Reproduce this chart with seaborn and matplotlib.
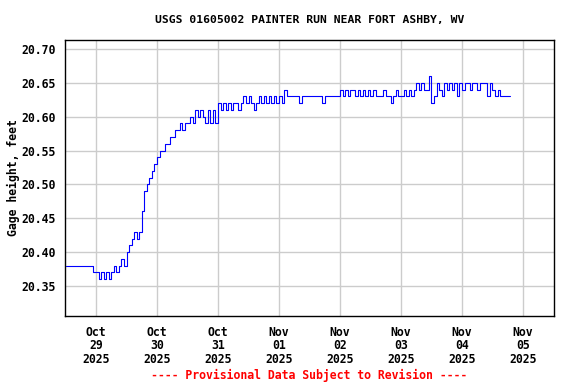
import pandas as pd
import matplotlib
matplotlib.use("Agg")
import matplotlib.pyplot as plt
import matplotlib.dates as mdates
import seaborn as sns

# hourly gage height readings (feet), first reading Oct 28 12:00
oct28 = [20.38, 20.38, 20.38, 20.38, 20.38, 20.38, 20.38, 20.38, 20.38, 20.38,
         20.38, 20.37]
oct29 = [20.37, 20.36, 20.37, 20.36, 20.37, 20.36, 20.37, 20.38, 20.37, 20.38,
         20.39, 20.38, 20.40, 20.41, 20.42, 20.43, 20.42, 20.43, 20.46, 20.49,
         20.50, 20.51, 20.52, 20.53]
oct30 = [20.54, 20.55, 20.55, 20.56, 20.56, 20.57, 20.57, 20.58, 20.58, 20.59,
         20.58, 20.59, 20.59, 20.60, 20.59, 20.61, 20.60, 20.61, 20.60, 20.59,
         20.61, 20.59, 20.61, 20.59]
oct31 = [20.62, 20.61, 20.62, 20.61, 20.62, 20.61, 20.62, 20.62, 20.61, 20.62,
         20.63, 20.62, 20.63, 20.62, 20.61, 20.62, 20.63, 20.62, 20.63, 20.62,
         20.63, 20.62, 20.63, 20.62]
nov01 = [20.63, 20.62, 20.64, 20.63, 20.63, 20.63, 20.63, 20.63, 20.62, 20.63,
         20.63, 20.63, 20.63, 20.63, 20.63, 20.63, 20.63, 20.62, 20.63, 20.63,
         20.63, 20.63, 20.63, 20.63]
nov02 = [20.64, 20.63, 20.64, 20.63, 20.64, 20.64, 20.63, 20.64, 20.63, 20.64,
         20.63, 20.64, 20.63, 20.64, 20.63, 20.63, 20.63, 20.64, 20.63, 20.63,
         20.62, 20.63, 20.64, 20.63]
nov03 = [20.63, 20.64, 20.63, 20.64, 20.63, 20.64, 20.65, 20.64, 20.65, 20.64,
         20.64, 20.66, 20.62, 20.63, 20.65, 20.64, 20.63, 20.65, 20.64, 20.65,
         20.64, 20.65, 20.63, 20.65]
nov04 = [20.64, 20.65, 20.65, 20.64, 20.65, 20.65, 20.64, 20.65, 20.65, 20.65,
         20.63, 20.65, 20.64, 20.63, 20.64, 20.63, 20.63, 20.63, 20.63, 20.63]

levels = oct28 + oct29 + oct30 + oct31 + nov01 + nov02 + nov03 + nov04
times = pd.date_range("2025-10-28 12:00", periods=len(levels), freq="h")
df = pd.DataFrame({"time": times, "gage": levels})

day_ticks = pd.date_range("2025-10-29", "2025-11-05", freq="D")
y_ticks = [20.35, 20.40, 20.45, 20.50, 20.55, 20.60, 20.65, 20.70]

sns.set_style("white")
plt.rcParams["font.family"] = ["DejaVu Sans Mono"]
plt.rcParams["font.weight"] = "bold"
plt.rcParams["text.color"] = "black"
plt.rcParams["axes.labelcolor"] = "black"
plt.rcParams["xtick.color"] = "black"
plt.rcParams["ytick.color"] = "black"

fig = plt.figure(figsize=(5.76, 3.84), dpi=100)
ax = fig.add_axes([65 / 576, 1 - 316 / 384, 489 / 576, 276 / 384])

sns.lineplot(data=df, x="time", y="gage", ax=ax, color="#0000ff",
             linewidth=0.8, drawstyle="steps-post")

ax.set_xlim(pd.Timestamp("2025-10-28 11:48"), pd.Timestamp("2025-11-05 12:12"))
ax.set_ylim(20.3055, 20.7133)
ax.set_xticks(day_ticks)
ax.xaxis.set_major_formatter(mdates.DateFormatter("%b\n%d\n%Y"))
ax.set_yticks(y_ticks)
ax.set_yticklabels([f"{v:.2f}" for v in y_ticks])
ax.grid(True, color="#cccccc", linewidth=1.0)
ax.set_axisbelow(True)
ax.tick_params(axis="both", length=0, labelsize=8.3, pad=7)
for lbl in ax.get_xticklabels():
    lbl.set_linespacing(1.05)
for sp in ax.spines.values():
    sp.set_color("black")
    sp.set_linewidth(1.0)

ax.set_xlabel("")
ax.set_ylabel("Gage height, feet", fontsize=8.3, fontweight="bold", labelpad=1)

fig.text(309.5 / 576, 1 - 20 / 384, "USGS 01605002 PAINTER RUN NEAR FORT ASHBY, WV",
         ha="center", va="center", fontsize=8.2, fontweight="bold")
fig.text(309 / 576, 1 - 375 / 384, "---- Provisional Data Subject to Revision ----",
         ha="center", va="center", fontsize=8.3, fontweight="bold", color="red")

fig.savefig("out.png", dpi=100)
